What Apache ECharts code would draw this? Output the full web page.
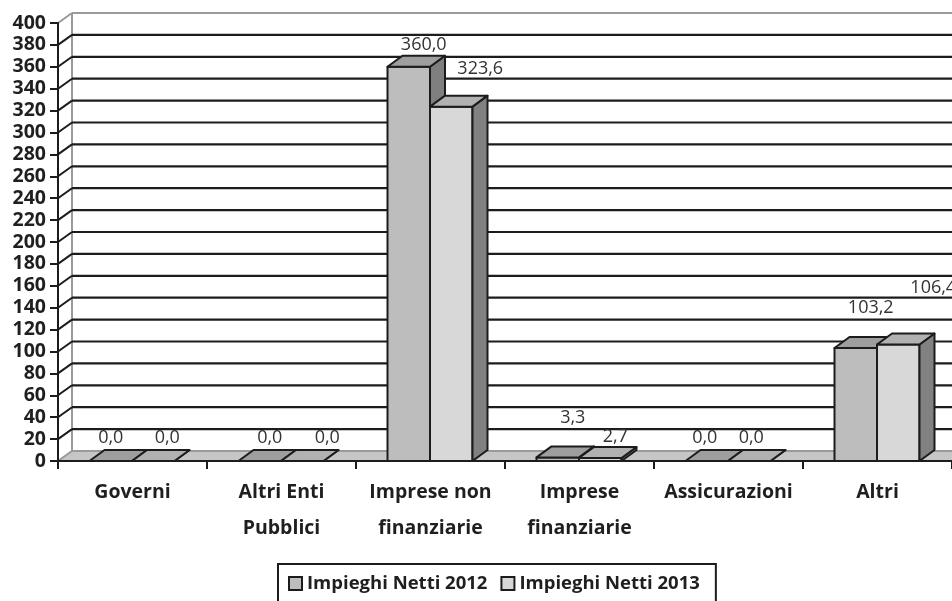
<!DOCTYPE html>
<html>
<head>
<meta charset="utf-8">
<script src="https://cdn.jsdelivr.net/npm/echarts@6/dist/echarts.min.js"></script>
<style>
  html, body { margin: 0; padding: 0; background: #fff; }
  #chart { width: 952px; height: 601px; }
</style>
</head>
<body>
<div id="chart"></div>
<script>
const categories = [
  'Governi',
  'Altri Enti\nPubblici',
  'Imprese non\nfinanziarie',
  'Imprese\nfinanziarie',
  'Assicurazioni',
  'Altri'
];
const seriesNames = ['Impieghi Netti 2012', 'Impieghi Netti 2013'];
const netti2012 = [0.0, 0.0, 360.0, 3.3, 0.0, 103.2];
const netti2013 = [0.0, 0.0, 323.6, 2.7, 0.0, 106.4];
const yTickValues = [0, 20, 40, 60, 80, 100, 120, 140, 160, 180, 200,
                     220, 240, 260, 280, 300, 320, 340, 360, 380, 400];

// value-label placement, px relative to the top back edge of each column
const labelDx2012   = [-15, -5, 0, 0, -17, 0];
const labelDx2013   = [-1, 10, 14, 0, -13, 20];
const labelRise2012 = [12, 12, 11, 29, 12, 29];
const labelRise2013 = [12, 12, 27, 10, 12, 46];

const DEPTH_X = 15, DEPTH_Y = 11;   // column depth in screen space
const WALL_X = 14, WALL_Y = 10;     // depth of the floor / back wall
const COL_W = 42.5;
const INK = '#1c1c1c';
const TEXT = '#1f1f1f';
const FONT = '"Open Sans", "Noto Sans", sans-serif';

const palette = [
  { front: '#bdbdbd', top: '#9e9e9e', side: '#7f7f7f' },
  { front: '#d8d8d8', top: '#b1b1b1', side: '#818181' }
];

function fmt(v) { return v.toFixed(1).replace('.', ','); }

// back wall gridlines, side-wall ticks and floor
function renderWall(params, api) {
  const cs = params.coordSys;
  const v = api.value(1);
  const y = api.coord([0, v])[1];
  const xl = cs.x, xr = cs.x + cs.width;
  const isEdge = v === yTickValues[0] || v === yTickValues[yTickValues.length - 1];
  const color = isEdge ? '#9a9a9a' : INK;
  const children = [];
  if (v === yTickValues[0]) {
    children.push({
      type: 'polygon',
      shape: { points: [[xl, y], [xr, y], [xr + WALL_X, y - WALL_Y], [xl + WALL_X, y - WALL_Y]] },
      style: { fill: '#c6c6c6', stroke: '#9a9a9a', lineWidth: 2 }
    });
    const yTop = api.coord([0, yTickValues[yTickValues.length - 1]])[1];
    children.push({
      type: 'line',
      shape: { x1: xl + WALL_X, y1: yTop - WALL_Y, x2: xl + WALL_X, y2: y - WALL_Y },
      style: { stroke: '#9a9a9a', lineWidth: 2 }
    });
  } else {
    children.push({
      type: 'line',
      shape: { x1: xl, y1: y, x2: xl + WALL_X, y2: y - WALL_Y },
      style: { stroke: color, lineWidth: 2 }
    });
    children.push({
      type: 'line',
      shape: { x1: xl + WALL_X, y1: y - WALL_Y, x2: xr + WALL_X, y2: y - WALL_Y },
      style: { stroke: color, lineWidth: 2.2 }
    });
  }
  return { type: 'group', children };
}

function makeColumnRenderer(which) {
  const c = palette[which];
  return function (params, api) {
    const cat = api.value(0), v = api.value(1);
    const base = api.coord([cat, 0]);
    const top = api.coord([cat, v]);
    const cx = base[0];
    const x0 = which === 0 ? cx - 0.5 - COL_W : cx - 0.5;
    const x1 = x0 + COL_W;
    const yb = base[1], yt = top[1];
    const stroke = { stroke: INK, lineWidth: 2, lineJoin: 'round' };
    const z2 = which;
    return {
      type: 'group',
      children: [
        { type: 'polygon', z2,
          shape: { points: [[x0, yb], [x1, yb], [x1, yt], [x0, yt]] },
          style: Object.assign({ fill: c.front }, stroke) },
        { type: 'polygon', z2,
          shape: { points: [[x1, yb], [x1 + DEPTH_X, yb - DEPTH_Y], [x1 + DEPTH_X, yt - DEPTH_Y], [x1, yt]] },
          style: Object.assign({ fill: c.side }, stroke) },
        { type: 'polygon', z2,
          shape: { points: [[x0, yt], [x1, yt], [x1 + DEPTH_X, yt - DEPTH_Y], [x0 + DEPTH_X, yt - DEPTH_Y]] },
          style: Object.assign({ fill: c.top }, stroke) }
      ]
    };
  };
}

function makeLabelRenderer(which) {
  const dx = which === 0 ? labelDx2012 : labelDx2013;
  const rise = which === 0 ? labelRise2012 : labelRise2013;
  return function (params, api) {
    const cat = api.value(0), v = api.value(1);
    const base = api.coord([cat, 0]);
    const top = api.coord([cat, v]);
    const cx = base[0];
    const x0 = which === 0 ? cx - 0.5 - COL_W : cx - 0.5;
    const bx = x0 + COL_W / 2 + DEPTH_X;
    const by = top[1] - DEPTH_Y;
    return {
      type: 'text', z2: 50,
      style: {
        text: fmt(v),
        x: bx + dx[cat], y: by - rise[cat],
        align: 'center', verticalAlign: 'middle',
        font: '18px ' + FONT, fill: '#333333'
      }
    };
  };
}

const chart = echarts.init(document.getElementById('chart'), null, { renderer: 'canvas' });

const pairs = arr => arr.map((v, i) => [i, v]);

chart.setOption({
  animation: false,
  backgroundColor: '#ffffff',
  grid: { left: 58, right: 0, top: 23, bottom: 140, containLabel: false },
  legend: {
    left: 278, top: 564,
    orient: 'horizontal',
    icon: 'rect',
    itemWidth: 13, itemHeight: 13,
    itemGap: 13,
    padding: [10, 16, 20, 10],
    borderColor: INK, borderWidth: 2,
    textStyle: { fontFamily: FONT, fontWeight: 'bold', fontSize: 18.5, color: TEXT },
    data: [
      { name: seriesNames[0], itemStyle: { color: palette[0].front, borderColor: INK, borderWidth: 2 } },
      { name: seriesNames[1], itemStyle: { color: palette[1].front, borderColor: INK, borderWidth: 2 } }
    ]
  },
  xAxis: {
    type: 'category',
    data: categories,
    boundaryGap: true,
    z: 10,
    axisLine: { show: true, lineStyle: { color: INK, width: 2 } },
    axisTick: { show: true, inside: false, length: 8, alignWithLabel: false, lineStyle: { color: INK, width: 2 } },
    axisLabel: {
      interval: 0, margin: 13,
      fontFamily: FONT, fontWeight: 'bold', fontSize: 19.5, color: TEXT,
      lineHeight: 36
    },
    splitLine: { show: false }
  },
  yAxis: {
    type: 'value',
    min: 0, max: 400, interval: 20,
    z: 10,
    axisLine: { show: true, lineStyle: { color: INK, width: 2 } },
    axisTick: { show: true, inside: false, length: 8, lineStyle: { color: INK, width: 2 } },
    axisLabel: { margin: 12, fontFamily: FONT, fontWeight: 'bold', fontSize: 19.5, color: TEXT },
    splitLine: { show: false }
  },
  series: [
    {
      type: 'custom', name: 'wall', silent: true, z: 1,
      renderItem: renderWall,
      data: yTickValues.map(v => [0, v])
    },
    {
      type: 'custom', name: seriesNames[0], z: 2,
      itemStyle: { color: palette[0].front },
      renderItem: makeColumnRenderer(0),
      data: pairs(netti2012)
    },
    {
      type: 'custom', name: seriesNames[1], z: 2,
      itemStyle: { color: palette[1].front },
      renderItem: makeColumnRenderer(1),
      data: pairs(netti2013)
    },
    {
      type: 'custom', name: 'labels2012', silent: true, z: 3,
      renderItem: makeLabelRenderer(0),
      data: pairs(netti2012)
    },
    {
      type: 'custom', name: 'labels2013', silent: true, z: 3,
      renderItem: makeLabelRenderer(1),
      data: pairs(netti2013)
    }
  ]
});
</script>
</body>
</html>
